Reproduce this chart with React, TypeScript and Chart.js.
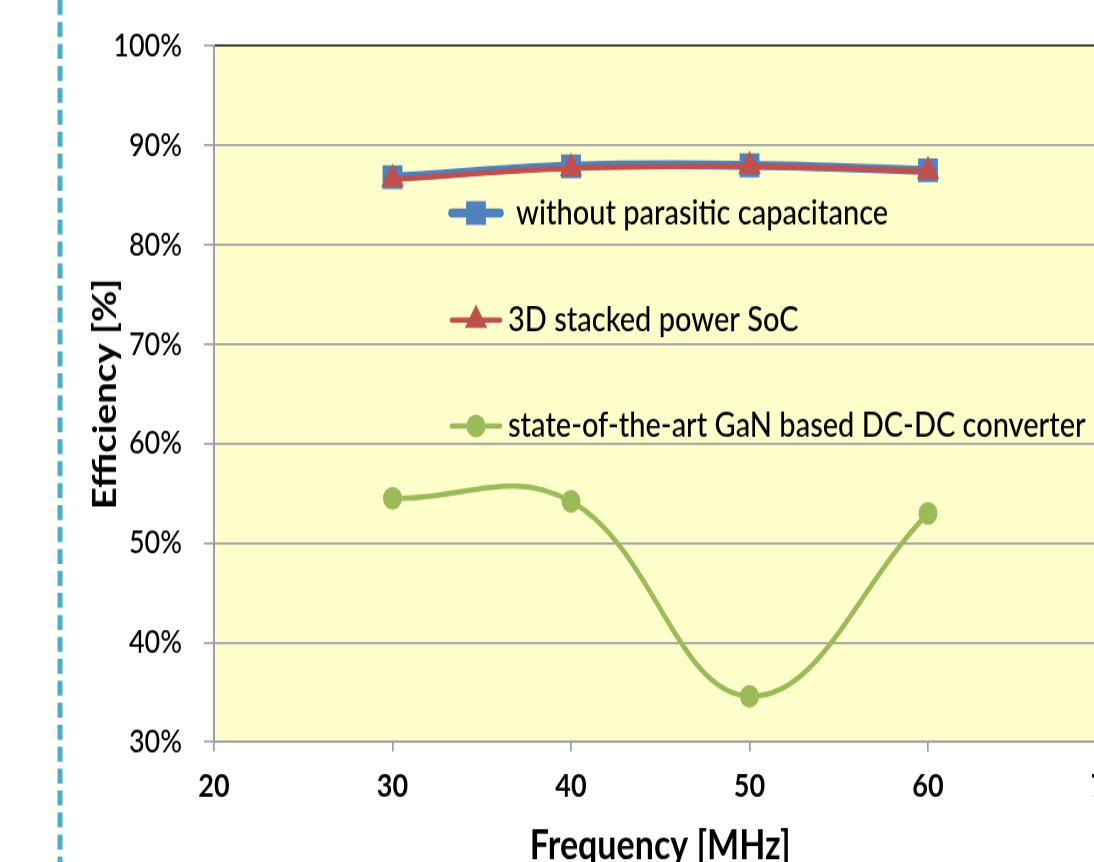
import React, { useEffect, useRef } from "react";
import { Chart, registerables } from "chart.js";

Chart.register(...registerables);

const frequencies = [30, 40, 50, 60];
const withoutParasitic = [86.8, 87.9, 88.0, 87.5];
const stacked3D = [86.6, 87.7, 87.9, 87.4];
const ganConverter = [54.5, 54.2, 34.6, 53.0];
const seriesNames = [
  "without parasitic capacitance",
  "3D stacked power SoC",
  "state-of-the-art GaN based DC-DC converter",
];
const xAxisTitle = "Frequency [MHz]";
const yAxisTitle = "Efficiency [%]";

const FONT = "Lato, 'Open Sans', sans-serif";
const STRETCH = 1.2;
const CANVAS_W = 1200;
const CANVAS_H = 730;

const bgPlugin = {
  id: "bg",
  beforeDraw(chart: any) {
    const { ctx, chartArea } = chart;
    ctx.save();
    ctx.fillStyle = "#FFFFCC";
    ctx.fillRect(chartArea.left, chartArea.top, chartArea.right - chartArea.left, chartArea.bottom - chartArea.top);
    ctx.restore();
  },
  afterDraw(chart: any) {
    const { ctx } = chart;
    ctx.save();
    ctx.strokeStyle = "#4BACC6";
    ctx.lineWidth = 5;
    ctx.setLineDash([12.5, 5.8]);
    ctx.beginPath();
    ctx.moveTo(60, 0);
    ctx.lineTo(60, chart.height);
    ctx.stroke();
    ctx.restore();
  },
};

const legendPlugin = {
  id: "customLegend",
  afterDatasetsDraw(chart: any) {
    const { ctx } = chart;
    const ys = [213 / STRETCH, 320 / STRETCH, 426 / STRETCH];
    const textX = [516, 508, 508];
    chart.data.datasets.forEach((ds: any, i: number) => {
      const y = ys[i];
      ctx.save();
      ctx.strokeStyle = ds.borderColor;
      ctx.lineWidth = ds.borderWidth;
      ctx.lineCap = "round";
      ctx.beginPath();
      ctx.moveTo(452, y);
      ctx.lineTo(500, y);
      ctx.stroke();
      ctx.fillStyle = ds.pointBackgroundColor;
      const cx = 476;
      const r = ds.pointRadius;
      ctx.beginPath();
      if (ds.pointStyle === "rect") {
        const s = r * Math.SQRT1_2;
        ctx.rect(cx - s, y - s, 2 * s, 2 * s);
      } else if (ds.pointStyle === "triangle") {
        ctx.moveTo(cx, y - r);
        ctx.lineTo(cx + Math.sin((2 * Math.PI) / 3) * r, y + r / 2);
        ctx.lineTo(cx - Math.sin((2 * Math.PI) / 3) * r, y + r / 2);
        ctx.closePath();
      } else {
        ctx.arc(cx, y, r, 0, Math.PI * 2);
      }
      ctx.fill();
      ctx.fillStyle = "#000000";
      ctx.font = `500 29px ${FONT}`;
      ctx.textBaseline = "middle";
      ctx.textAlign = "left";
      ctx.fillText(ds.label, textX[i], y);
      ctx.restore();
    });
  },
};

export default function App() {
  const ref = useRef<HTMLCanvasElement | null>(null);

  useEffect(() => {
    if (!ref.current) return;
    const chart = new Chart(ref.current, {
      type: "line",
      data: {
        datasets: [
          {
            label: seriesNames[0],
            data: frequencies.map((f, i) => ({ x: f, y: withoutParasitic[i] })),
            borderColor: "#4F81BD",
            backgroundColor: "#4F81BD",
            pointBackgroundColor: "#4F81BD",
            pointBorderColor: "#4F81BD",
            borderWidth: 7.5,
            pointStyle: "rect",
            pointRadius: 14,
            pointBorderWidth: 0,
            tension: 0.4,
            order: 1,
          },
          {
            label: seriesNames[1],
            data: frequencies.map((f, i) => ({ x: f, y: stacked3D[i] })),
            borderColor: "#C0504D",
            backgroundColor: "#C0504D",
            pointBackgroundColor: "#C0504D",
            pointBorderColor: "#C0504D",
            borderWidth: 4.5,
            pointStyle: "triangle",
            pointRadius: 13,
            pointBorderWidth: 0,
            tension: 0.4,
            order: 0,
          },
          {
            label: seriesNames[2],
            data: frequencies.map((f, i) => ({ x: f, y: ganConverter[i] })),
            borderColor: "#9BBB59",
            backgroundColor: "#9BBB59",
            pointBackgroundColor: "#9BBB59",
            pointBorderColor: "#9BBB59",
            borderWidth: 4.5,
            pointStyle: "circle",
            pointRadius: 9.5,
            pointBorderWidth: 0,
            tension: 0.4,
            order: 2,
          },
        ],
      },
      options: {
        responsive: false,
        animation: false,
        devicePixelRatio: 1,
        layout: { padding: { left: 0, top: 46 / STRETCH, right: CANVAS_W - 1106.5, bottom: 0 } },
        plugins: {
          legend: { display: false },
          tooltip: { enabled: false },
          title: { display: false },
        },
        scales: {
          x: {
            type: "linear",
            min: 20,
            max: 70,
            afterFit: (scale: any) => {
              scale.height = CANVAS_H - 742 / STRETCH;
            },
            ticks: {
              stepSize: 10,
              color: "#000000",
              font: { family: FONT, size: 27, weight: "bold" },
              padding: 13,
            },
            grid: {
              drawOnChartArea: false,
              drawTicks: true,
              tickLength: 8,
              color: "#A0A0A0",
              tickColor: "#A0A0A0",
              lineWidth: 1.7,
            },
            border: { color: "#A0A0A0", width: 2 },
            title: {
              display: true,
              text: xAxisTitle,
              color: "#000000",
              font: { family: FONT, size: 34, weight: "bold" },
              padding: { top: 0, bottom: 5 },
            },
          },
          y: {
            min: 30,
            max: 100,
            afterFit: (scale: any) => {
              scale.width = 214;
            },
            ticks: {
              stepSize: 10,
              color: "#000000",
              font: { family: FONT, size: 27, weight: 500 },
              padding: 22,
              callback: (v: any) => `${v}%`,
            },
            grid: {
              tickLength: 10,
              color: (c: any) => (c.tick && c.tick.value === 100 ? "#262626" : "#A0A0A0"),
              tickColor: "#A0A0A0",
              lineWidth: 1.7,
            },
            border: { color: "#A0A0A0", width: 2 },
            title: {
              display: true,
              text: yAxisTitle,
              color: "#000000",
              font: { family: FONT, size: 32, weight: "bold" },
              padding: { top: 86, bottom: 0 },
            },
          },
        },
      },
      plugins: [bgPlugin, legendPlugin],
    } as any);
    return () => chart.destroy();
  }, []);

  return (
    <div
      style={{
        position: "fixed",
        left: 0,
        top: 0,
        width: 1094,
        height: 862,
        overflow: "hidden",
        background: "#ffffff",
      }}
    >
      <div style={{ transform: `scale(1, ${STRETCH})`, transformOrigin: "0 0", width: CANVAS_W, height: CANVAS_H }}>
        <canvas ref={ref} width={CANVAS_W} height={CANVAS_H} style={{ display: "block" }} />
      </div>
    </div>
  );
}
